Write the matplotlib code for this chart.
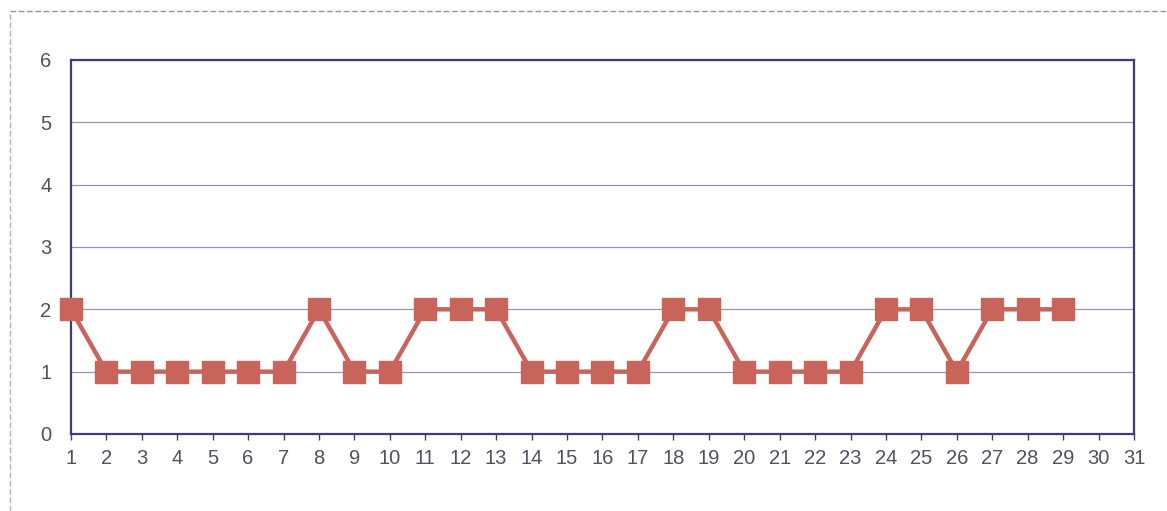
import matplotlib
matplotlib.use("Agg")
import matplotlib.pyplot as plt
from matplotlib.lines import Line2D

days = list(range(1, 30))
values = [2, 1, 1, 1, 1, 1, 1, 2, 1, 1, 2, 2, 2, 1, 1, 1, 1, 2, 2, 1, 1, 1, 1, 2, 2, 1, 2, 2, 2]
x_ticks = list(range(1, 32))
y_ticks = [0, 1, 2, 3, 4, 5, 6]

plt.rcParams['font.family'] = ['Liberation Sans', 'DejaVu Sans']

fig = plt.figure(figsize=(11.67, 5.11), dpi=100)
ax = fig.add_axes([0.0608, 0.1507, 0.9109, 0.7319])

for y in y_ticks[1:]:
    ax.axhline(y, color='#9a90c0', lw=0.9, zorder=1)

ax.plot(days, values, color='#c8645a', lw=3.2, marker='s', markersize=16,
        markerfacecolor='#c8645a', markeredgecolor='#c8645a', zorder=3, clip_on=False)

ax.set_xlim(1, 31)
ax.set_ylim(0, 6)
ax.set_xticks(x_ticks)
ax.set_yticks(y_ticks)
ax.tick_params(axis='x', length=4, width=1, color='#404070', labelsize=14.5, labelcolor='#505060', pad=7)
ax.tick_params(axis='y', length=0, labelsize=14.5, labelcolor='#505060', pad=14)
for s in ax.spines.values():
    s.set_color('#3c3c78')
    s.set_linewidth(1.6)

# outer dashed frame
fig.add_artist(Line2D([10/1167, 1.0], [1 - 11/511, 1 - 11/511], transform=fig.transFigure,
                      color='#9090b0', lw=1, ls=(0, (4, 2))))
fig.add_artist(Line2D([10/1167, 10/1167], [0.0, 1 - 11/511], transform=fig.transFigure,
                      color='#b0b0c0', lw=1, ls=(0, (4, 2))))

fig.savefig('out.png', dpi=100, facecolor='white')
